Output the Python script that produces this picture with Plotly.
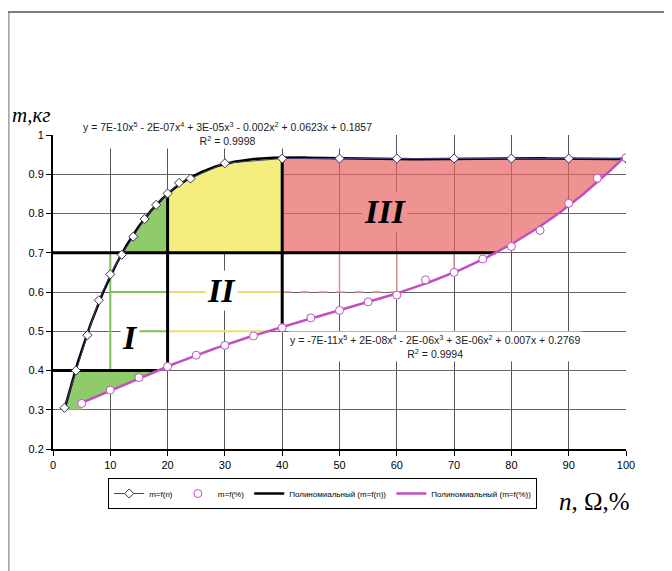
import numpy as np
import plotly.graph_objects as go

# ---------------- data ----------------
n_x = [2, 4, 6, 8, 10, 12, 14, 16, 18, 20, 22, 24, 30, 40, 50, 60, 70, 80, 90, 100]
n_y = [0.305, 0.400, 0.490, 0.579, 0.645, 0.695, 0.741, 0.786, 0.822, 0.851,
       0.878, 0.889, 0.928, 0.940, 0.940, 0.940, 0.940, 0.940, 0.940, 0.940]

p_x = [5, 10, 15, 20, 25, 30, 35, 40, 45, 50, 55, 60, 65, 70, 75, 80, 85, 90, 95, 100]
p_y = [0.316, 0.350, 0.382, 0.410, 0.439, 0.464, 0.488, 0.509, 0.534, 0.553,
       0.575, 0.592, 0.631, 0.650, 0.684, 0.716, 0.757, 0.826, 0.890, 0.942]

eq_n = "y = 7E-10x<sup>5</sup> - 2E-07x<sup>4</sup> + 3E-05x<sup>3</sup> - 0.002x<sup>2</sup> + 0.0623x + 0.1857<br>R<sup>2</sup> = 0.9998"
eq_p = "y = -7E-11x<sup>5</sup> + 2E-08x<sup>4</sup> - 2E-06x<sup>3</sup> + 3E-06x<sup>2</sup> + 0.007x + 0.2769<br>R<sup>2</sup> = 0.9994"

x_ticks = [0, 10, 20, 30, 40, 50, 60, 70, 80, 90, 100]
y_ticks = [0.2, 0.3, 0.4, 0.5, 0.6, 0.7, 0.8, 0.9, 1.0]
zone_levels = [0.4, 0.7]      # horizontal zone borders
zone_bounds = [20, 40]        # vertical zone borders

# ---------------- polynomial trendlines (as in Excel) ----------------
cn = np.polyfit(n_x, n_y, 5)
cp = np.polyfit(p_x, p_y, 5)
xn = np.linspace(min(n_x), max(n_x), 500)
yn = np.polyval(cn, xn)
xp = np.linspace(min(p_x), max(p_x), 500)
yp = np.polyval(cp, xp)

fn = lambda x: float(np.polyval(cn, x))
fp = lambda x: float(np.polyval(cp, x))

lo, hi = zone_levels
b1, b2 = zone_bounds
rise = xn <= 40
xb_lo = float(np.interp(lo, yn[rise], xn[rise]))
xb_hi = float(np.interp(hi, yn[rise], xn[rise]))
xm_lo = float(np.interp(lo, yp, xp))
xm_hi = float(np.interp(hi, yp, xp))

def seg(x, y, a, b):
    m = (x >= a) & (x <= b)
    return list(x[m]), list(y[m])

fig = go.Figure()

def poly(xs, ys, color):
    fig.add_trace(go.Scatter(x=xs, y=ys, mode="lines", fill="toself", fillcolor=color,
                             line=dict(width=0, color=color), showlegend=False, hoverinfo="skip"))

GREEN = "#8fcb6a"
YELLOW = "#f4ee7e"
RED = "rgba(232,100,100,0.7)"

# green top
sx, sy = seg(xn, yn, xb_hi, b1)
poly([xb_hi] + sx + [b1, b1, xb_hi], [hi] + sy + [fn(b1), hi, hi], GREEN)
# green bottom
sx, sy = seg(xn, yn, min(n_x), xb_lo)
mx, my = seg(xp, yp, min(p_x), xm_lo)
poly([min(n_x)] + sx + [xb_lo, xm_lo] + mx[::-1] + [min(p_x), min(n_x)],
     [0.3] + sy + [lo, lo] + my[::-1] + [0.3, 0.3], GREEN)
# yellow
sx, sy = seg(xn, yn, b1, b2)
poly([b1] + sx + [b2, b2, b1], [fn(b1)] + sy + [fn(b2), hi, hi], YELLOW)
# red
sx, sy = seg(xn, yn, b2, 100)
mx, my = seg(xp, yp, xm_hi, 100)
poly([b2] + sx + mx[::-1] + [xm_hi, b2], [fn(b2)] + sy + my[::-1] + [hi, hi], RED)

# thin coloured remnants inside zones
def line(xs, ys, color, width, dash=None):
    fig.add_trace(go.Scatter(x=xs, y=ys, mode="lines", line=dict(color=color, width=width, dash=dash),
                             showlegend=False, hoverinfo="skip"))

line([10, 10], [lo, hi], "#7fc05a", 2)
line([10, 20], [0.6, 0.6], "#7fc05a", 2)
line([15, 20], [0.5, 0.5], "#7fc05a", 2)
line([20, 40], [0.6, 0.6], "#e8e070", 2)
line([20, 37.5], [0.5, 0.5], "#e8e070", 2)
line([40, 62], [0.6, 0.6], "#e09090", 1.5, "dash")
for xv in [50, 60, 70]:
    line([xv, xv], [max(0.6, fp(xv)), hi], "#e09090", 1.5)

# thick black zone borders
line([0, xm_hi], [hi, hi], "black", 3)
line([0, xm_lo], [lo, lo], "black", 3)
line([b1, b1], [fp(b1), fn(b1)], "black", 3)
line([b2, b2], [fp(b2), fn(b2)], "black", 3)

# trendlines
fig.add_trace(go.Scatter(x=xn, y=yn, mode="lines", line=dict(color="black", width=2.5),
                         name="Полиномиальный (m=f(n))", legendrank=3, hoverinfo="skip"))
fig.add_trace(go.Scatter(x=xp, y=yp, mode="lines", line=dict(color="#c24fc0", width=2.5),
                         name="Полиномиальный (m=f(%))", legendrank=4, hoverinfo="skip"))

# data series
fig.add_trace(go.Scatter(x=n_x, y=n_y, mode="lines+markers", name="m=f(n)", legendrank=1,
                         line=dict(color="#40407a", width=1),
                         marker=dict(symbol="diamond", size=7, color="white",
                                     line=dict(color="#333355", width=1))))
fig.add_trace(go.Scatter(x=p_x, y=p_y, mode="markers", name="m=f(%)", legendrank=2,
                         marker=dict(symbol="circle", size=8, color="white",
                                     line=dict(color="#c24fc0", width=1))))

# page-pixel -> paper helpers (plot area spans page px 53.3..626.3 x 135..449)
PX0, PW, PY0, PH = 53.3, 573.0, 449.0, 314.0
px = lambda p: (p - PX0) / PW
py = lambda p: (PY0 - p) / PH

ann = []
SERIF = "Liberation Serif"
ann.append(dict(x=13.4, y=0.485, text="<b><i>I</i></b>", showarrow=False, bgcolor="white",
                font=dict(family=SERIF, size=34, color="black")))
ann.append(dict(x=29.4, y=0.605, text="<b><i>II</i></b>", showarrow=False, bgcolor="white",
                font=dict(family=SERIF, size=34, color="black")))
ann.append(dict(x=57.9, y=0.804, text="<b><i>III</i></b>", showarrow=False, bgcolor="#ef9292",
                font=dict(family=SERIF, size=34, color="black")))
ann.append(dict(x=30.5, yref="paper", y=py(134), text=eq_n, showarrow=False, bgcolor="white",
                font=dict(family="Liberation Sans", size=10.5, color="#222"), yanchor="middle"))
ann.append(dict(x=66.7, y=0.46, text=eq_p, showarrow=False, bgcolor="white",
                font=dict(family="Liberation Sans", size=10.5, color="#222"), yanchor="middle"))
ann.append(dict(xref="paper", yref="paper", x=px(10), y=py(115),
                xanchor="left", yanchor="middle", text="<i>m,кг</i>", showarrow=False,
                font=dict(family=SERIF, size=21, color="black")))
ann.append(dict(xref="paper", yref="paper", x=px(557), y=py(501),
                xanchor="left", yanchor="middle", text="<i>n</i>, Ω,%", showarrow=False,
                font=dict(family=SERIF, size=25, color="black")))

shapes = [
    dict(type="line", xref="paper", yref="paper", x0=px(9), x1=px(9),
         y0=py(12), y1=py(571), line=dict(color="#aaaaaa", width=2)),
    dict(type="line", xref="paper", yref="paper", x0=px(8), x1=px(672),
         y0=py(12), y1=py(12), line=dict(color="#555555", width=1.5)),
]

# page has an 8px body margin, so the figure is shrunk by 8px and margins shifted
fig.update_layout(
    width=664, height=563,
    margin=dict(l=45.3, r=664 - 45.3 - PW, t=127, b=563 - 127 - PH),
    paper_bgcolor="white", plot_bgcolor="white",
    font=dict(family="Liberation Sans", size=11, color="black"),
    annotations=ann, shapes=shapes,
    legend=dict(orientation="h", x=px(323), y=py(478),
                xanchor="center", yanchor="top", bordercolor="black", borderwidth=1,
                font=dict(family="Liberation Sans", size=8, color="black"),
                itemwidth=30, bgcolor="white"),
    showlegend=True,
)
fig.update_xaxes(range=[0, 100], tickvals=x_ticks, showgrid=True, gridcolor="#555555", gridwidth=1,
                 showline=True, linecolor="black", linewidth=2, ticks="outside", ticklen=5,
                 tickcolor="black", zeroline=False, fixedrange=True, automargin=False)
fig.update_yaxes(range=[0.2, 1.0], tickvals=y_ticks, ticktext=[f"{v:g}" for v in y_ticks],
                 showgrid=True, gridcolor="#666666", gridwidth=1,
                 showline=True, linecolor="black", linewidth=2, ticks="outside", ticklen=5,
                 tickcolor="black", zeroline=False, fixedrange=True, automargin=False)

fig.write_html("out.html")
